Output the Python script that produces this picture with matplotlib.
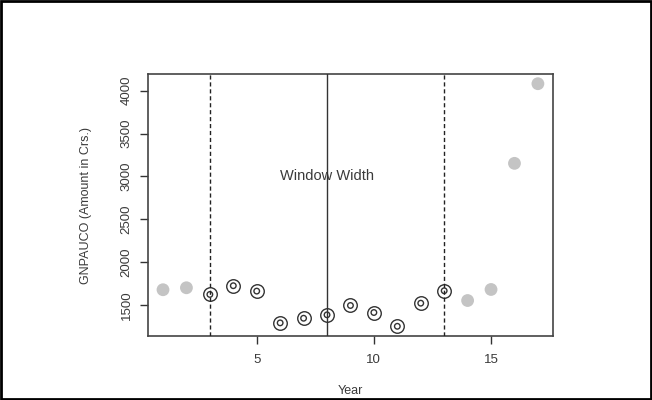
import matplotlib
matplotlib.use("Agg")
from matplotlib import pyplot
from matplotlib.patches import Rectangle
import numpy as np

years = np.arange(1, 18)
gnpauco = [1676, 1699, 1621, 1723, 1660, 1289, 1343, 1383, 1492,
           1410, 1249, 1519, 1664, 1550, 1679, 3152, 4082]
window_years = list(range(3, 14))
window_edges = [3, 13]
window_centre = 8
yticks = [1500, 2000, 2500, 3000, 3500, 4000]
xticks = [5, 10, 15]

TEXT_COLOR = "#3a3a3a"
pyplot.rcParams["font.family"] = ["Liberation Sans", "DejaVu Sans"]

fig = pyplot.figure(figsize=(6.52, 4.0), dpi=100)
ax = fig.add_axes([0.227, 0.16, 0.621, 0.655])

y = np.array(gnpauco)
in_win = np.isin(years, window_years)

# points outside the window: grey discs
ax.scatter(years[~in_win], y[~in_win], s=85, color="#c4c4c4",
           edgecolors="none", zorder=3)
# points inside the window: double rings
ax.scatter(years[in_win], y[in_win], s=95, facecolors="white",
           edgecolors="#333333", linewidths=1.0, zorder=3)
ax.scatter(years[in_win], y[in_win], s=16, facecolors="none",
           edgecolors="#333333", linewidths=1.0, zorder=4)

for e in window_edges:
    ax.axvline(e, color="#222222", linestyle=(0, (3, 2)), linewidth=1.0, zorder=5)
ax.axvline(window_centre, color="#333333", linewidth=1.0, zorder=5)

ax.text(window_centre, 3000, "Window Width", ha="center", va="center",
        fontsize=10.5, color=TEXT_COLOR, zorder=2)

span_x = years.max() - years.min()
ax.set_xlim(years.min() - 0.04 * span_x, years.max() + 0.04 * span_x)
span_y = y.max() - y.min()
ax.set_ylim(y.min() - 0.04 * span_y, y.max() + 0.04 * span_y)

ax.set_xticks(xticks)
ax.set_yticks(yticks)
ax.set_yticklabels([str(v) for v in yticks], rotation=90, va="center")
ax.tick_params(axis="both", direction="out", length=6, width=1.0,
               color="#333333", labelcolor=TEXT_COLOR, labelsize=9.5, pad=5)
ax.tick_params(axis="x", pad=7)
for sp in ax.spines.values():
    sp.set_color("#444444")
    sp.set_linewidth(1.2)

ax.set_xlabel("Year", fontsize=9, color=TEXT_COLOR, labelpad=14)
ax.set_ylabel("GNPAUCO (Amount in Crs.)", fontsize=9, color=TEXT_COLOR,
              labelpad=21)

# outer frame around the whole picture
fig.patches.append(Rectangle((0.002, 0.003), 0.996, 0.994,
                             transform=fig.transFigure, fill=False,
                             edgecolor="black", linewidth=2.0))

fig.savefig("out.png", dpi=100)
